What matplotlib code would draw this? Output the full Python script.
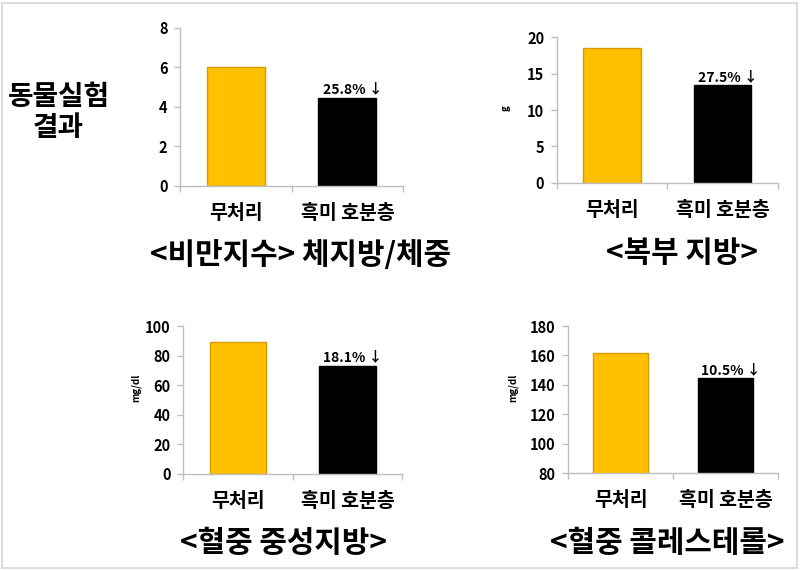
import matplotlib.pyplot as plt
from matplotlib.patches import Rectangle

plt.rcParams['font.family'] = ['Noto Sans CJK KR', 'DejaVu Sans']

# 데이터
categories = ['무처리', '흑미 호분층']
obesity = [6.03, 4.47]
belly_fat = [18.45, 13.36]
triglyceride = [89.3, 73.1]
cholesterol = [161.5, 144.5]
reductions = ['25.8%', '27.5%', '18.1%', '10.5%']
titles = ['<비만지수> 체지방/체중', '<복부 지방>', '<혈중 중성지방>', '<혈중 콜레스테롤>']
ylabels = ['', 'g', 'mg/dl', 'mg/dl']
ylims = [(0, 8), (0, 20), (0, 100), (80, 180)]
ysteps = [2, 5, 20, 20]

bar_colors = ['#FFC000', '#000000']
edge_colors = ['#D99A00', '#000000']
axis_gray = '#BFBFBF'

fig = plt.figure(figsize=(8, 5.7), dpi=100)

# 패널 위치 (figure 비율)
rects = [[0.225, 0.674, 0.279, 0.277],
         [0.696, 0.679, 0.276, 0.256],
         [0.229, 0.169, 0.274, 0.259],
         [0.710, 0.170, 0.263, 0.258]]
title_pos = [(0.376, 1 - 255 / 570), (0.852, 1 - 253 / 570),
             (0.354, 1 - 543 / 570), (0.834, 1 - 543 / 570)]
ylabel_pos = [(-0.2, 0.5), (-0.21, 0.51), (-0.19, 0.58), (-0.235, 0.58)]

series = [obesity, belly_fat, triglyceride, cholesterol]

for i, vals in enumerate(series):
    ax = fig.add_axes(rects[i])
    x = list(range(len(categories)))
    ax.bar(x, vals, width=0.52, color=bar_colors, edgecolor=edge_colors, linewidth=1.0, zorder=2)
    lo, hi = ylims[i]
    ax.set_ylim(lo, hi)
    ax.set_xlim(-0.5, 1.5)
    ax.set_yticks(list(range(lo, hi + 1, ysteps[i])))
    for lab in ax.get_yticklabels():
        lab.set_fontweight('bold')
    ax.tick_params(axis='y', labelsize=10.5, length=4, color=axis_gray, width=1, pad=5)

    # 카테고리 축: 경계에 눈금, 가운데에 라벨
    ax.set_xticks([-0.5, 0.5, 1.5])
    ax.set_xticklabels([])
    ax.set_xticks(x, minor=True)
    ax.set_xticklabels(categories, minor=True, fontsize=14, fontweight='bold')
    ax.tick_params(axis='x', which='major', length=4, color=axis_gray, width=1)
    ax.tick_params(axis='x', which='minor', length=0, pad=13)

    for s in ['top', 'right']:
        ax.spines[s].set_visible(False)
    for s in ['left', 'bottom']:
        ax.spines[s].set_color(axis_gray)
        ax.spines[s].set_linewidth(1)

    if ylabels[i]:
        ax.set_ylabel(ylabels[i], fontsize=7, fontweight='bold')
        ax.yaxis.set_label_coords(*ylabel_pos[i])

    # 감소율 표시
    ax.annotate(reductions[i] + ' ↓', xy=(1.05, vals[1]), xytext=(0, 1),
                textcoords='offset points', ha='center', va='bottom',
                fontsize=10, fontweight='bold')

    fig.text(title_pos[i][0], title_pos[i][1], titles[i], ha='center', va='center',
             fontsize=21.5, fontweight='bold')

fig.text(0.073, 1 - 97 / 570, '동물실험', ha='center', va='center', fontsize=20, fontweight='bold')
fig.text(0.073, 1 - 128 / 570, '결과', ha='center', va='center', fontsize=20, fontweight='bold')

# 바깥 테두리
fig.patches.append(Rectangle((0.002, 0.003), 0.994, 0.991, transform=fig.transFigure,
                             fill=False, edgecolor='#DDDDDD', linewidth=1.5))

fig.savefig('out.png', dpi=100, facecolor='white')
